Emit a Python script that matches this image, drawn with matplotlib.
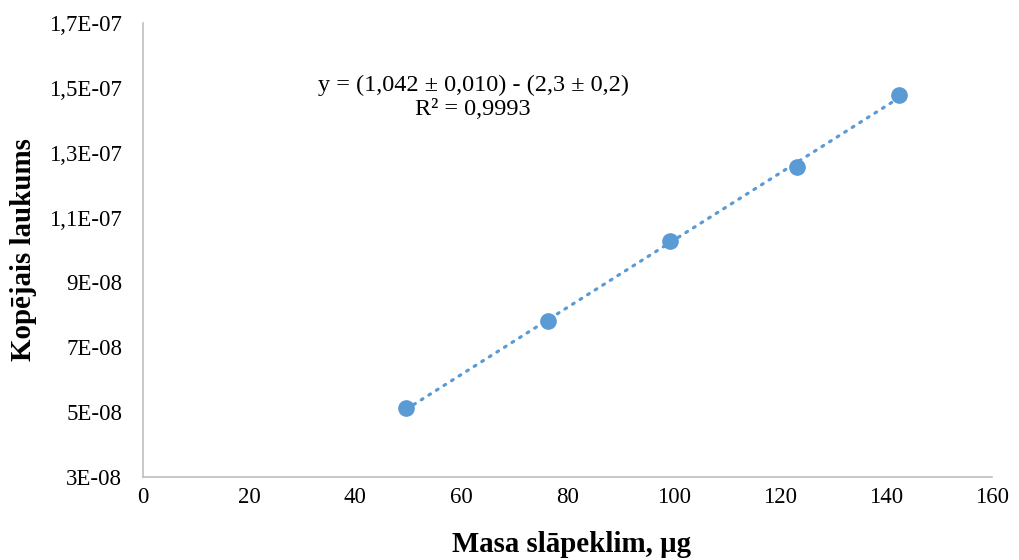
import numpy as np
import matplotlib.pyplot as plt
from matplotlib.ticker import FuncFormatter, FixedLocator, MultipleLocator

# Dati
masa = [49.6, 76.4, 99.4, 123.2, 142.5]
laukums = [5.12e-08, 7.82e-08, 1.029e-07, 1.257e-07, 1.478e-07]
y_ticks = [3e-08, 5e-08, 7e-08, 9e-08, 1.1e-07, 1.3e-07, 1.5e-07, 1.7e-07]
vienadojums = "y = (1,042 ± 0,010) - (2,3 ± 0,2)\nR² = 0,9993"

plt.rcParams['font.family'] = ['Liberation Serif', 'DejaVu Serif']

def e_fmt(v, pos):
    s = "%.1E" % v
    mant, exp = s.split("E")
    if mant.endswith(".0"):
        mant = mant[:-2]
    mant = mant.replace(".", ",")
    sign = exp[0]
    digits = exp[1:].lstrip("+").zfill(2)
    return "%sE%s%s" % (mant, "-" if sign == "-" else "+", digits)

fig = plt.figure(figsize=(10.19, 5.6), dpi=100)
ax = fig.add_axes([0.1403, 0.148, 0.8332, 0.811])

x = np.array(masa)
y = np.array(laukums)
k, b = np.polyfit(x, y, 1)
xl = np.array([x.min(), x.max()])
ax.plot(xl, k * xl + b, color='#5B9BD5', linestyle=(0, (0.6, 2.2)), linewidth=2.3,
        dash_capstyle='round', zorder=2)
ax.plot(x, y, 'o', color='#5B9BD5', markersize=11, zorder=3)

ax.set_xlim(0, 160)
ax.set_ylim(3e-08, 1.7e-07)
ax.xaxis.set_major_locator(MultipleLocator(20))
ax.yaxis.set_major_locator(FixedLocator(y_ticks))
ax.yaxis.set_major_formatter(FuncFormatter(e_fmt))

for s in ['top', 'right']:
    ax.spines[s].set_visible(False)
for s in ['left', 'bottom']:
    ax.spines[s].set_color('#BFBFBF')
    ax.spines[s].set_linewidth(1.2)
ax.tick_params(axis='both', length=0, labelsize=16.5)
ax.tick_params(axis='x', pad=7)
ax.tick_params(axis='y', pad=15)

ax.set_xlabel('Masa slāpeklim, µg', fontsize=20.8, fontweight='bold')
ax.set_ylabel('Kopējais laukums', fontsize=20.8, fontweight='bold')
ax.xaxis.set_label_coords(0.505, -0.118)
ax.yaxis.set_label_coords(-0.125, 0.5)

ax.text(62.2, 1.47e-07, vienadojums, ha='center', va='center', fontsize=17.5,
        linespacing=1.2)

plt.savefig('out.png', dpi=100)
